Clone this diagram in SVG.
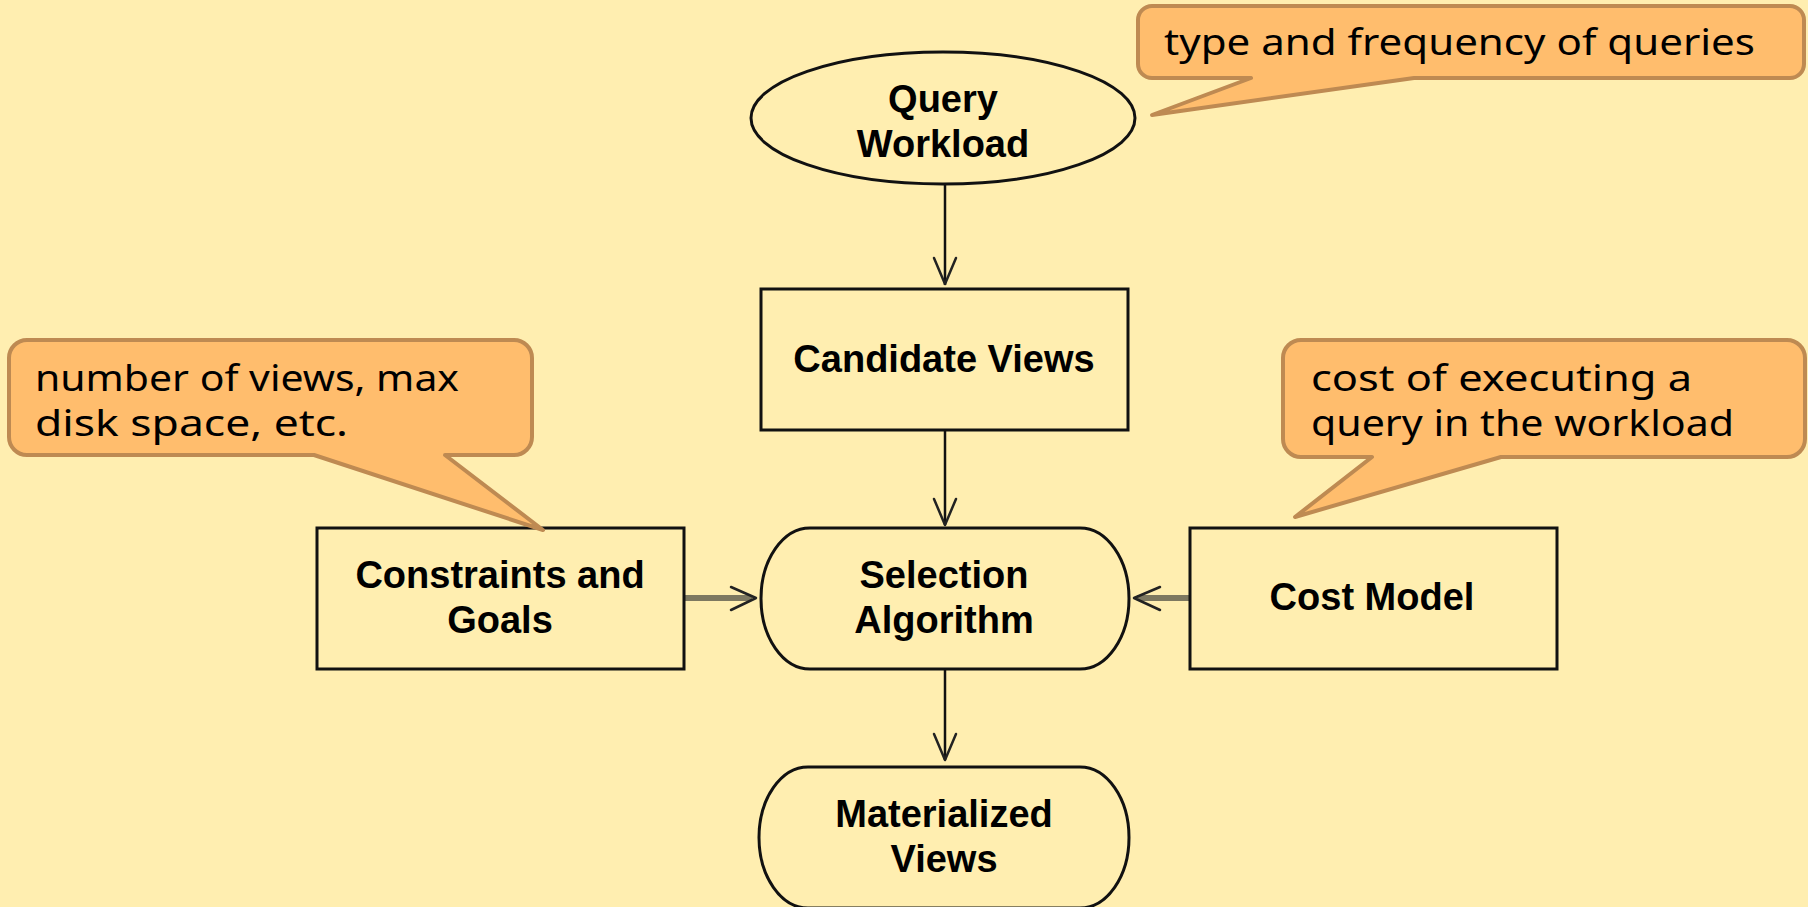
<svg xmlns="http://www.w3.org/2000/svg" width="1808" height="907" viewBox="0 0 1808 907">
<defs>
<style>
.node{fill:#FFEEB0;stroke:#111;stroke-width:3}
.nt{font-family:"Liberation Sans",Arial,sans-serif;font-weight:bold;font-size:38px;fill:#000;text-anchor:middle}
.call{fill:#FFBD6D;stroke:#BE8A52;stroke-width:4;stroke-linejoin:round}
.ct{font-family:"Noto Sans","DejaVu Sans",sans-serif;font-size:36px;fill:#000}
.edge{stroke:#111;stroke-width:2.5;fill:none}
.hedge{stroke:#7d7860;stroke-width:6;fill:none}
.head{stroke:#222;stroke-width:2.5;fill:none;stroke-linecap:round;stroke-linejoin:round}
</style>
</defs>
<rect x="0" y="0" width="1808" height="907" fill="#FFEEB0"/>

<g id="connectors">
<line class="edge" x1="945" y1="185" x2="945" y2="285"/>
<polyline class="head" points="934,258 945,284 956,258"/>
<line class="edge" x1="945" y1="430" x2="945" y2="525"/>
<polyline class="head" points="934,499 945,525 956,499"/>
<line class="edge" x1="945" y1="669" x2="945" y2="760"/>
<polyline class="head" points="934,734 945,760 956,734"/>
<line class="hedge" x1="684" y1="598" x2="752" y2="598"/>
<polyline class="head" points="731,587 756,598 731,610"/>
<line class="hedge" x1="1190" y1="598" x2="1137" y2="598"/>
<polyline class="head" points="1160,587 1134,598 1160,610"/>
</g>

<g id="query-workload">
<ellipse class="node" cx="943" cy="118" rx="192" ry="66"/>
<text class="nt" x="943" y="112">Query</text>
<text class="nt" x="943" y="157">Workload</text>
</g>

<g id="candidate-views">
<rect class="node" x="761" y="289" width="367" height="141"/>
<text class="nt" x="944" y="372">Candidate Views</text>
</g>

<g id="selection-algorithm">
<path class="node" d="M810,528 H1080 A49 70.5 0 0 1 1080,669 H810 A49 70.5 0 0 1 810,528 Z"/>
<text class="nt" x="944" y="588">Selection</text>
<text class="nt" x="944" y="633">Algorithm</text>
</g>

<g id="constraints-goals">
<rect class="node" x="317" y="528" width="367" height="141"/>
<text class="nt" x="500" y="588">Constraints and</text>
<text class="nt" x="500" y="633">Goals</text>
</g>

<g id="cost-model">
<rect class="node" x="1190" y="528" width="367" height="141"/>
<text class="nt" x="1372" y="610">Cost Model</text>
</g>

<g id="materialized-views">
<path class="node" d="M808,767 H1080 A49 70.5 0 0 1 1080,908 H808 A49 70.5 0 0 1 808,767 Z"/>
<text class="nt" x="944" y="827">Materialized</text>
<text class="nt" x="944" y="872">Views</text>
</g>

<g id="callout-workload">
<path class="call" d="M1152,6 H1790 A14 14 0 0 1 1804,20 V64 A14 14 0 0 1 1790,78 H1414 L1152,115 L1251,78 H1152 A14 14 0 0 1 1138,64 V20 A14 14 0 0 1 1152,6 Z"/>
<text class="ct" x="1164" y="55" textLength="591" lengthAdjust="spacingAndGlyphs">type and frequency of queries</text>
</g>

<g id="callout-constraints">
<path class="call" d="M27,340 H514 A18 18 0 0 1 532,358 V437 A18 18 0 0 1 514,455 H445 L543,530 L314,455 H27 A18 18 0 0 1 9,437 V358 A18 18 0 0 1 27,340 Z"/>
<text class="ct" x="35" y="391" font-size="38" textLength="424" lengthAdjust="spacingAndGlyphs">number of views, max</text>
<text class="ct" x="35" y="436" font-size="38" textLength="313" lengthAdjust="spacingAndGlyphs">disk space, etc.</text>
</g>

<g id="callout-cost">
<path class="call" d="M1301,340 H1787 A18 18 0 0 1 1805,358 V439 A18 18 0 0 1 1787,457 H1501 L1295,517 L1372,457 H1301 A18 18 0 0 1 1283,439 V358 A18 18 0 0 1 1301,340 Z"/>
<text class="ct" x="1311" y="391" font-size="38" textLength="381" lengthAdjust="spacingAndGlyphs">cost of executing a</text>
<text class="ct" x="1311" y="436" font-size="38" textLength="423" lengthAdjust="spacingAndGlyphs">query in the workload</text>
</g>
</svg>
